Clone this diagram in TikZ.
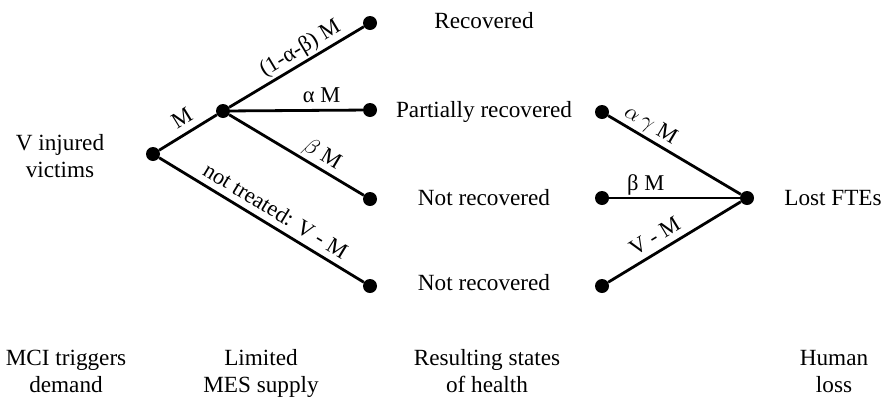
\documentclass[tikz,border=0pt]{standalone}
\usepackage{fontspec}
\setmainfont{Liberation Serif}
\usepackage{unicode-math}
\setmathfont{Latin Modern Math}
\setlength{\tabcolsep}{0pt}
% two-line caption whose baseline is that of its first line
\newcommand{\twolines}[2]{\begin{tabular}[t]{c}#1\\#2\end{tabular}}
\begin{document}
\begin{tikzpicture}[x=1pt,y=-1pt,
  dot/.style={circle,fill=black,inner sep=0pt,minimum size=14pt},
  edge/.style={line width=2.8pt},
  lbl/.style={font=\fontsize{23.2}{27.5}\selectfont,anchor=base,inner sep=0pt},
  elbl/.style={font=\fontsize{22.5}{26}\selectfont,sloped,anchor=south,
               inner sep=0pt,text depth=0pt,above=6.5pt}]
\useasboundingbox (0,0) rectangle (887,397);
% decision tree
\node[dot] (root) at (153,154) {};
\node[dot] (split) at (223,111) {};
\node[dot] (rec) at (370,23) {};
\node[dot] (part) at (370,110) {};
\node[dot] (notrec) at (370,199) {};
\node[dot] (untr) at (370,286) {};
\node[dot] (lpart) at (602,112) {};
\node[dot] (lnot) at (602,198) {};
\node[dot] (luntr) at (602,286) {};
\node[dot] (lost) at (747,198) {};
\draw[edge] (root) -- node[elbl,pos=0.53] {M} (split);
\draw[edge] (split) -- node[elbl,pos=0.58] {(1-α-β) M} (rec);
\draw[edge] (split) -- node[elbl,pos=0.69] {α M} (part);
\draw[edge] (split) -- node[elbl,pos=0.64] {$\beta$ M} (notrec);
\draw[edge] (root) -- node[elbl,pos=0.53] {not treated: V - M} (untr);
\draw[edge] (lpart) -- node[elbl,pos=0.27] {$\alpha\,\gamma$ M} (lost);
\draw[edge] (lnot) -- node[elbl,pos=0.28] {β M} (lost);
\draw[edge] (luntr) -- node[elbl,pos=0.41] {V - M} (lost);
% state labels
\node[lbl] (vic) at (60,150) {\twolines{V injured}{victims}};
\node[lbl] (trec) at (484,28) {Recovered};
\node[lbl] (tpart) at (484,117) {Partially recovered};
\node[lbl] (tnot) at (484,205) {Not recovered};
\node[lbl] (tuntr) at (484,290) {Not recovered};
\node[lbl] (tlost) at (833,205) {Lost FTEs};
% stage captions
\node[lbl] (s1) at (66,365) {\twolines{MCI triggers}{demand}};
\node[lbl] (s2) at (261,365) {\twolines{Limited}{MES supply}};
\node[lbl] (s3) at (487,365) {\twolines{Resulting states}{of health}};
\node[lbl] (s4) at (834,365) {\twolines{Human}{loss}};
\end{tikzpicture}
\end{document}
